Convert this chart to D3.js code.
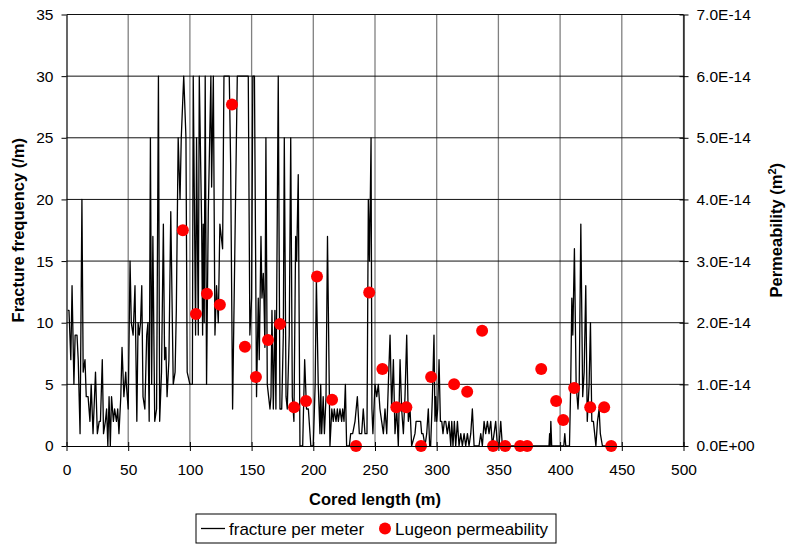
<!DOCTYPE html>
<html>
<head>
<meta charset="utf-8">
<script src="https://cdn.jsdelivr.net/npm/d3@7"></script>
<style>
    body { margin: 0; background: #fff; }
    text { font-family: "Liberation Sans", Arial, sans-serif; }
</style>
</head>
<body>
<div id="chart"></div>
<script>
const fracDepth = [
    1, 2, 3.5, 4.5, 6, 7, 8.5, 9.5, 11, 12.5, 13.5, 15, 16, 17.5, 19, 20, 21.5, 23.5, 25, 26.5,
    27.5, 29, 30, 31.5, 32.5, 33.5, 34.5, 35.5, 36.5, 38, 39, 40.5, 41.5, 42.5, 44, 45, 46.5, 48, 48.5, 50,
    51.5, 52.5, 54, 55.5, 57, 58, 59, 60, 61, 62, 63.5, 65, 66, 67, 68, 69, 70, 71.5, 73, 74.5,
    75.5, 77, 78.5, 79.5, 80.5, 81.5, 83, 84.5, 86.5, 88, 89, 90.5, 92, 93, 95, 96.8, 97.8, 100, 102, 102.7,
    104.6, 105.4, 106.8, 107.6, 109.5, 110.3, 110.8, 111.6, 112.4, 113.5, 114.9, 117, 117.6, 119, 120.3, 121.6, 123, 124.3, 126.5, 127.6,
    131.9, 133, 134.6, 138.4, 147.3, 148.6, 150, 151, 152.3, 154, 155.4, 156.2, 157.6, 158.4, 159.5, 160, 160.8, 161.6, 162.7, 163.8,
    164.9, 165.7, 166.5, 167.6, 168.9, 169.7, 171.6, 173, 174.4, 175.7, 176.5, 177.9, 178.9, 180.5, 181.7, 183, 184.3, 185.7, 186.5, 187.8,
    189.2, 191.4, 193, 194.5, 196, 198, 200, 201.5, 202.5, 204, 205.4, 206, 206.8, 208, 209, 210.3, 211.5, 213.5, 215, 216.2,
    217, 218.4, 219.5, 220.3, 221.6, 223, 223.8, 224.9, 226, 227, 229.2, 230.3, 231.9, 233.8, 235.7, 237.3, 239.2, 240.5, 241.9, 243.5,
    244.6, 245.5, 246.2, 246.8, 247.5, 248.3, 250, 251.4, 252.7, 254, 255.4, 256.8, 258.1, 259.5, 260.8, 262.2, 263.5, 264.9, 266.2, 267.6,
    268.9, 270.3, 271.6, 273, 274.3, 275.7, 277, 278.4, 279.7, 282.4, 283.3, 284.2, 285, 286, 287, 287.8, 288.9, 290.5, 291.9, 293.2,
    294.3, 295.1, 296.5, 297.8, 298.6, 299.2, 300, 300.8, 301.9, 303, 304.1, 305.1, 306.2, 307.3, 308.6, 310, 311.4, 312.2, 313.2, 314.3,
    315.4, 316.8, 318.1, 319.5, 320.8, 322.2, 323.5, 324.9, 326.2, 327.6, 328.9, 330.3, 334.3, 335.7, 337, 338.4, 339.7, 341.1, 342.4, 343.8,
    345.1, 346.5, 347.8, 349.2, 350.5, 351.9, 353.2, 391, 391.5, 392, 392.5, 393.2, 403, 403.8, 404.6, 407.6, 408.6, 409.5, 410.3, 411.6,
    413, 414.5, 415.5, 416.8, 418.3, 419.5, 420.8, 422, 423.5, 424.6, 425.7, 427, 428, 429, 430.3, 431.6, 432.6, 434.3, 442
];
const fracCount = [
    11, 11, 7, 13, 5, 9, 9, 7, 1, 20, 6, 7, 4, 4, 2, 5, 1, 6, 1, 2,
    2, 7, 1, 2, 3, 0, 4, 0, 4, 2, 3, 2, 3, 1, 4, 8, 4, 6, 5, 3,
    15, 10, 9, 13, 2, 10, 9, 10, 13, 4, 3, 9, 10, 2, 25, 5, 17, 2, 3, 30,
    2, 6, 18, 7, 8, 4, 7, 19, 5, 6, 11, 25, 20, 25, 30, 25, 6, 5, 5, 30,
    9, 25, 9, 30, 18, 9, 18, 10, 30, 5, 19, 30, 21, 30, 9, 13, 10, 18, 16, 30,
    30, 23, 3, 30, 30, 9, 12, 30, 30, 4, 12, 7, 17, 12, 14, 12, 8, 25, 5, 4,
    3, 4, 11, 3, 11, 3, 30, 3, 3, 9, 25, 4, 3, 9, 25, 4, 2, 17, 15, 22,
    0, 0, 7, 3, 3, 0, 0, 5, 13.5, 5, 1, 5, 1, 4, 1, 4, 17, 0, 3, 2,
    3, 2, 3, 2, 3, 2, 3, 2, 5, 0, 0, 1, 1, 2, 4, 1, 1, 3, 1, 1,
    20, 15, 20, 25, 3, 1, 5, 4, 5, 3, 2, 1, 3, 1, 5, 9, 3, 7, 1, 3,
    0, 7, 3, 1, 4, 9, 2, 3, 0, 1, 2, 2, 2, 2, 2, 1, 1, 0, 1, 3,
    0, 0, 4, 9, 2, 4, 2, 3, 7, 2, 2, 1, 2, 2, 1, 2, 0, 2, 0, 2,
    0, 2, 0, 1, 0, 1, 0, 1, 0, 1, 3, 0, 0, 1, 0, 2, 1, 2, 1, 2,
    0, 1, 2, 0, 0, 2, 0, 0, 1, 0, 2, 0, 0, 1, 0, 0, 5, 12, 9, 16,
    5, 3, 5, 18, 4, 6, 13, 2, 5, 10, 2, 2, 1, 0, 2, 3, 1, 0, 0
];

// Lugeon test permeability (m2) at the tested depths
const lugDepth = [
    94.3, 104.9, 113.8, 124.3, 134.1, 144.6, 153.5, 163.3, 173, 184.4, 194.1, 203,
    215.2, 234.6, 245.3, 256, 267.3, 275.4, 287.3, 295.5, 314.1, 324.7, 336.8,
    345.7, 355.5, 367.6, 373.3, 384.7, 396.8, 402.5, 411.4, 424.4, 435.7, 441.4
];
const lugPerm = [
    3.5e-14, 2.14e-14, 2.47e-14, 2.29e-14, 5.54e-14, 1.61e-14, 1.12e-14, 1.72e-14, 1.98e-14, 6.3e-15, 7.3e-15, 2.75e-14,
    7.5e-15, 0, 2.49e-14, 1.25e-14, 6.3e-15, 6.3e-15, 0, 1.12e-14, 1.0e-14, 8.8e-15, 1.87e-14,
    0, 0, 0, 0, 1.25e-14, 7.3e-15, 4.2e-15, 9.4e-15, 6.3e-15, 6.3e-15, 0
];

// Axis ticks
const xTicks = [0, 50, 100, 150, 200, 250, 300, 350, 400, 450, 500];
const yTicks = [0, 5, 10, 15, 20, 25, 30, 35];
const permTicks = [0, 1e-14, 2e-14, 3e-14, 4e-14, 5e-14, 6e-14, 7e-14];

const fontSize = 15.5,
    titleSize = 16.5,
    legendSize = 17;

// Dimensions
const margin = {top: 14.5, right: 104.5, bottom: 100, left: 66.5},
    width = 788 - margin.left - margin.right,
    height = 546 - margin.top - margin.bottom;

const svg = d3.select("#chart")
    .append("svg")
    .attr("width", 788)
    .attr("height", 546)
    .append("g")
    .attr("transform", `translate(${margin.left},${margin.top})`);

// Scales
const x = d3.scaleLinear().domain([0, 500]).range([0, width]);
const y = d3.scaleLinear().domain([0, 35]).range([height, 0]);
const yPerm = d3.scaleLinear().domain([0, 7e-14]).range([height, 0]);

// Vertical gridlines (grey)
svg.append("g")
    .selectAll("line")
    .data(xTicks.slice(1))
    .enter()
    .append("line")
    .attr("x1", d => x(d))
    .attr("x2", d => x(d))
    .attr("y1", 0)
    .attr("y2", height)
    .attr("stroke", "#808080")
    .attr("stroke-width", 1.3);

// Horizontal gridlines (black)
svg.append("g")
    .selectAll("line")
    .data(yTicks.slice(1))
    .enter()
    .append("line")
    .attr("x1", 0)
    .attr("x2", width)
    .attr("y1", d => y(d))
    .attr("y2", d => y(d))
    .attr("stroke", "#111")
    .attr("stroke-width", 1);

// Fracture line
const pts = fracDepth.map((d, i) => [d, fracCount[i]]);
const line = d3.line()
    .x(d => x(d[0]))
    .y(d => y(d[1]));

svg.append("path")
    .datum(pts)
    .attr("fill", "none")
    .attr("stroke", "#000")
    .attr("stroke-width", 1.3)
    .attr("stroke-linejoin", "round")
    .attr("d", line);

// Lugeon points
svg.append("g")
    .selectAll("circle")
    .data(lugDepth)
    .enter()
    .append("circle")
    .attr("cx", d => x(d))
    .attr("cy", (d, i) => yPerm(lugPerm[i]))
    .attr("r", 6)
    .attr("fill", "#ff0000");

// Axes
const xAxis = svg.append("g")
    .attr("transform", `translate(0,${height})`)
    .call(d3.axisBottom(x).tickValues(xTicks).tickSize(5).tickPadding(13).tickSizeOuter(0));
xAxis.selectAll(".tick line").attr("y1", -4);

const yAxis = svg.append("g")
    .call(d3.axisLeft(y).tickValues(yTicks).tickSize(5).tickPadding(8).tickSizeOuter(0));

const permFormat = d => d === 0 ? "0.0E+00" : (d / 1e-14).toFixed(1) + "E-14";
const yAxisRight = svg.append("g")
    .attr("transform", `translate(${width},0)`)
    .call(d3.axisRight(yPerm).tickValues(permTicks).tickFormat(permFormat).tickSize(5).tickPadding(8).tickSizeOuter(0));
yAxisRight.selectAll(".tick line").attr("x1", -4);

svg.selectAll(".domain").attr("stroke", "#000").attr("stroke-width", 1.2);
svg.selectAll(".tick line").attr("stroke", "#000");
svg.selectAll(".tick text")
    .style("font-family", "'Liberation Sans', Arial, sans-serif")
    .style("font-size", fontSize + "px")
    .attr("fill", "#000");

// Axis titles
svg.append("text")
    .attr("x", width / 2)
    .attr("y", height + 59)
    .style("text-anchor", "middle")
    .style("font-weight", "bold")
    .style("font-size", titleSize + "px")
    .text("Cored length (m)");

svg.append("text")
    .attr("transform", "rotate(-90)")
    .attr("x", -height / 2)
    .attr("y", -margin.left + 24)
    .style("text-anchor", "middle")
    .style("font-weight", "bold")
    .style("font-size", titleSize + "px")
    .text("Fracture frequency (/m)");

const permTitle = svg.append("text")
    .attr("transform", "rotate(-90)")
    .attr("x", -height / 2)
    .attr("y", width + 98)
    .style("text-anchor", "middle")
    .style("font-weight", "bold")
    .style("font-size", titleSize + "px");
permTitle.append("tspan").text("Permeability (m");
permTitle.append("tspan").attr("dy", -6).style("font-size", "11px").text("2");
permTitle.append("tspan").attr("dy", 6).text(")");

// Legend
const legend = svg.append("g")
    .attr("transform", `translate(${196 - margin.left},${514 - margin.top})`);

legend.append("rect")
    .attr("x", 0)
    .attr("y", 0)
    .attr("width", 360)
    .attr("height", 29)
    .attr("fill", "#fff")
    .attr("stroke", "#000")
    .attr("stroke-width", 1);

legend.append("line")
    .attr("x1", 5)
    .attr("x2", 29)
    .attr("y1", 14.5)
    .attr("y2", 14.5)
    .attr("stroke", "#000")
    .attr("stroke-width", 1.3);

legend.append("text")
    .attr("x", 33)
    .attr("y", 20.5)
    .style("font-size", legendSize + "px")
    .text("fracture per meter");

legend.append("circle")
    .attr("cx", 189)
    .attr("cy", 14.5)
    .attr("r", 6)
    .attr("fill", "#ff0000");

legend.append("text")
    .attr("x", 199)
    .attr("y", 20.5)
    .style("font-size", legendSize + "px")
    .text("Lugeon permeability");
</script>
</body>
</html>
